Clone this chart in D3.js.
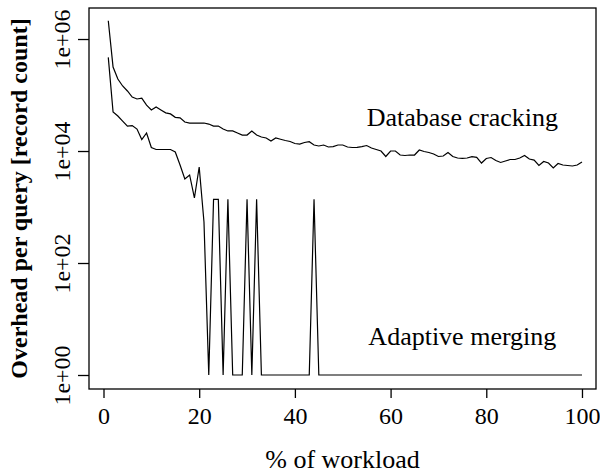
<!DOCTYPE html>
<html>
<head>
<meta charset="utf-8">
<script src="https://cdn.jsdelivr.net/npm/d3@7"></script>
<style>
  html, body { margin: 0; padding: 0; background: #fff; overflow: hidden; }
  svg { display: block; }
  text { font-family: "Liberation Serif", "Times New Roman", serif; fill: #000; }
</style>
</head>
<body>
<svg id="chart"></svg>
<script>
// % of workload (x)
const workload = d3.range(1, 101);

// overhead per query, database cracking
const cracking = [
  2120000, 316000, 193000, 145000, 118000, 92000, 85000, 88000, 66000, 54000,
  61000, 54000, 48000, 46000, 40000, 39000, 33000, 31600, 31600, 31600,
  31600, 30300, 27900, 27900, 24700, 22800, 22800, 21000, 19300, 19300,
  22800, 19300, 17800, 17100, 15100, 17100, 16200, 15400, 14800, 13600,
  13300, 14200, 14700, 12800, 12300, 12800, 11800, 12000, 12800, 12800,
  11800, 11550, 11650, 11940, 12530, 11320, 10640, 10000, 7980, 10000,
  10000, 8480, 8320, 8480, 8480, 10420, 9800, 9400, 8840, 7980,
  8140, 9400, 7980, 7500, 7410, 7500, 7910, 7720, 6100, 7350,
  7650, 6760, 6240, 6630, 7050, 7050, 7500, 8320, 7200, 6900,
  5510, 6500, 6100, 4970, 5980, 5620, 5510, 5400, 5620, 6360
];

// overhead per query, adaptive merging
const merging = [
  471000, 49700, 42200, 34300, 27900, 28500, 24700, 16000, 21000, 11550,
  10640, 10640, 10640, 10640, 9600, 5620, 3160, 3730, 1450, 5180,
  540, 1, 1370, 1370, 1, 1370, 1, 1, 1, 1370,
  1, 1370, 1, 1, 1, 1, 1, 1, 1, 1,
  1, 1, 1, 1370, 1, 1, 1, 1, 1, 1,
  1, 1, 1, 1, 1, 1, 1, 1, 1, 1,
  1, 1, 1, 1, 1, 1, 1, 1, 1, 1,
  1, 1, 1, 1, 1, 1, 1, 1, 1, 1,
  1, 1, 1, 1, 1, 1, 1, 1, 1, 1,
  1, 1, 1, 1, 1, 1, 1, 1, 1, 1
];

const xTicks = [0, 20, 40, 60, 80, 100];
const yTicks = [1, 100, 10000, 1000000];
const yTickLabels = ["1e+00", "1e+02", "1e+04", "1e+06"];

const size = { width: 600, height: 474 };
const margin = { top: 8, right: 4, bottom: 85, left: 89 };
const width = size.width - margin.left - margin.right;
const height = size.height - margin.top - margin.bottom;
const fontSize = 26;
const tickFontSize = 24;
const serif = "'Liberation Serif', 'Times New Roman', serif";

const svg = d3.select("#chart")
  .attr("width", size.width)
  .attr("height", size.height);

svg.append("rect")
  .attr("width", size.width)
  .attr("height", size.height)
  .attr("fill", "#fff");

const g = svg.append("g")
  .attr("transform", "translate(" + margin.left + "," + margin.top + ")");

const x = d3.scaleLinear().domain([-3.03, 102.93]).range([0, width]);
const y = d3.scaleLog().domain([Math.pow(10, -0.25), Math.pow(10, 6.554)]).range([height, 0]);

// x axis
const xAxis = g.append("g")
  .attr("transform", "translate(0," + height + ")")
  .call(d3.axisBottom(x).tickValues(xTicks).tickSize(9).tickPadding(9).tickFormat(d3.format("d")));
xAxis.attr("font-family", null).attr("font-size", null);
xAxis.select(".domain").remove();
xAxis.selectAll("line").attr("stroke", "#000").attr("stroke-width", 1.3);
xAxis.selectAll("text")
  .style("font-family", serif)
  .style("font-size", tickFontSize + "px")
  .attr("fill", "#000");

// y axis
const yAxis = g.append("g")
  .call(d3.axisLeft(y).tickValues(yTicks).tickSize(11).tickFormat((d, i) => yTickLabels[i]));
yAxis.attr("font-family", null).attr("font-size", null);
yAxis.select(".domain").remove();
yAxis.selectAll("line").attr("stroke", "#000").attr("stroke-width", 1.3);
yAxis.selectAll("text")
  .style("font-family", serif)
  .style("font-size", tickFontSize + "px")
  .attr("fill", "#000")
  .attr("x", null).attr("dy", null)
  .attr("text-anchor", "middle")
  .attr("transform", "translate(-19,0) rotate(-90)");

// box
g.append("rect")
  .attr("width", width)
  .attr("height", height)
  .attr("fill", "none")
  .attr("stroke", "#000")
  .attr("stroke-width", 1.3);

// lines
const line = d3.line()
  .x((d, i) => x(workload[i]))
  .y(d => y(d));

g.append("path")
  .datum(cracking)
  .attr("d", line)
  .attr("fill", "none")
  .attr("stroke", "#000")
  .attr("stroke-width", 1.2);

g.append("path")
  .datum(merging)
  .attr("d", line)
  .attr("fill", "none")
  .attr("stroke", "#000")
  .attr("stroke-width", 1.2);

// labels on the curves
g.append("text")
  .attr("x", x(75))
  .attr("y", y(40000))
  .attr("dy", "0.35em")
  .attr("text-anchor", "middle")
  .style("font-size", fontSize + "px")
  .text("Database cracking");

g.append("text")
  .attr("x", x(75))
  .attr("y", y(5))
  .attr("dy", "0.35em")
  .attr("text-anchor", "middle")
  .style("font-size", fontSize + "px")
  .text("Adaptive merging");

// axis titles
svg.append("text")
  .attr("x", margin.left + width / 2)
  .attr("y", 468)
  .attr("text-anchor", "middle")
  .style("font-size", fontSize + "px")
  .text("% of workload");

svg.append("text")
  .attr("transform", "translate(27," + (margin.top + height / 2) + ") rotate(-90)")
  .attr("text-anchor", "middle")
  .style("font-size", "24px")
  .style("font-weight", "bold")
  .text("Overhead per query [record count]");
</script>
</body>
</html>
